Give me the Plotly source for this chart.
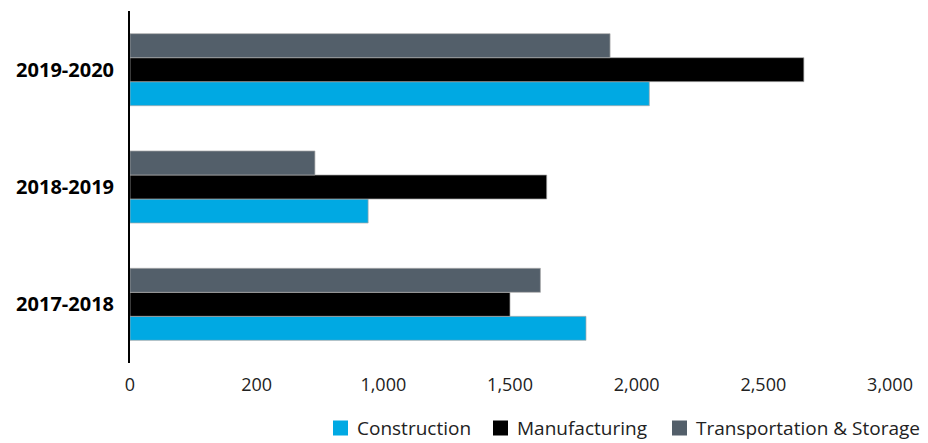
import plotly.graph_objects as go

# Financial years (bottom to top) and the values of each sector
years = ["2017-2018", "2018-2019", "2019-2020"]
construction = [1800, 940, 2050]
manufacturing = [1500, 1645, 2660]
transport_storage = [1620, 730, 1895]

# x-axis tick positions and the labels printed under them
tick_values = [0, 500, 1000, 1500, 2000, 2500, 3000]
tick_labels = ["0", "200", "1,000", "1,500", "2,000", "2,500", "3,000"]

series = [
    ("Construction", construction, "#00A9E3"),
    ("Manufacturing", manufacturing, "#000000"),
    ("Transportation & Storage", transport_storage, "#535F6A"),
]

W, H = 928, 443
M = dict(l=130, r=38, t=11, b=80)
plot_w = W - M["l"] - M["r"]
plot_h = H - M["t"] - M["b"]


def px_to_paper(px, py):
    """Convert page pixel coordinates to paper coordinates."""
    return (px - M["l"]) / plot_w, (H - M["b"] - py) / plot_h


fig = go.Figure()
for name, values, color in series:
    fig.add_trace(go.Bar(
        y=years,
        x=values,
        name=name,
        orientation="h",
        marker=dict(color=color, line=dict(color="rgba(170,170,170,0.7)", width=1)),
        showlegend=False,
    ))

# Legend row under the chart: square swatch followed by the series name
legend_left = [333, 493, 672]
legend_mid_y = 428
swatch = 15
for (name, _, color), left in zip(series, legend_left):
    x0, y0 = px_to_paper(left, legend_mid_y + swatch / 2)
    x1, y1 = px_to_paper(left + swatch, legend_mid_y - swatch / 2)
    fig.add_shape(type="rect", xref="paper", yref="paper",
                  x0=x0, x1=x1, y0=y0, y1=y1,
                  fillcolor=color, line=dict(width=0))
    tx, ty = px_to_paper(left + swatch + 7, legend_mid_y)
    fig.add_annotation(xref="paper", yref="paper", x=tx, y=ty,
                       xanchor="left", yanchor="middle", showarrow=False,
                       text=name, font=dict(size=19, color="#222222"))

fig.update_layout(
    width=W,
    height=H,
    margin=M,
    paper_bgcolor="white",
    plot_bgcolor="white",
    barmode="group",
    bargap=0.386,
    bargroupgap=0,
    showlegend=False,
    font=dict(family="Open Sans, sans-serif", color="#1a1a1a"),
    xaxis=dict(
        range=[0, 3000],
        tickvals=tick_values,
        ticktext=tick_labels,
        showgrid=False,
        zeroline=False,
        showline=False,
        ticks="",
        tickfont=dict(size=18, color="#222222"),
        ticklabelstandoff=9,
        automargin=False,
    ),
    yaxis=dict(
        categoryorder="array",
        categoryarray=years,
        range=[-0.5, 2.5],
        showgrid=False,
        zeroline=False,
        showline=True,
        linecolor="#000000",
        linewidth=2,
        ticks="",
        tickfont=dict(size=20, color="#000000", weight="bold"),
        ticklabelstandoff=10,
        automargin=False,
    ),
)

fig.write_html("out.html")
